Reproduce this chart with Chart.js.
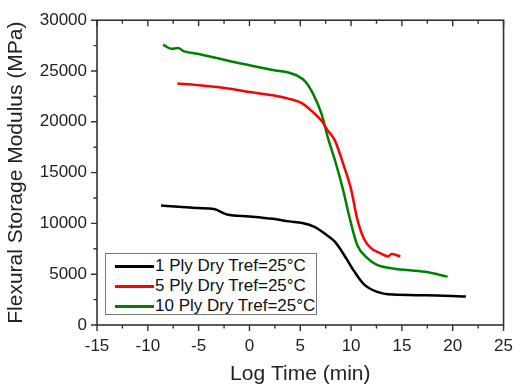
<!DOCTYPE html>
<html>
<head>
<meta charset="utf-8">
<script src="https://cdn.jsdelivr.net/npm/chart.js@4/dist/chart.umd.min.js"></script>
<style>
  html, body { margin: 0; padding: 0; background: #fff; }
  #wrap { position: relative; width: 524px; height: 391px; }
  #legend {
    position: absolute; left: 105px; top: 253px; width: 212px; height: 62px;
    border: 1.5px solid #777; background: #fff;
    font-family: "Liberation Sans", Arial, sans-serif; font-size: 17px; color: #111;
    padding-top: 2px; box-sizing: border-box; white-space: nowrap;
  }
  #legend .row { display: flex; align-items: center; height: 20px; }
  #legend .swatch { width: 39px; height: 3px; margin-left: 9px; margin-right: 1px; flex: none; }
</style>
</head>
<body>
<div id="wrap">
  <canvas id="chart" width="524" height="391"></canvas>
  <div id="legend"></div>
</div>
<script>
const seriesNames = ['1 Ply Dry Tref=25°C', '5 Ply Dry Tref=25°C', '10 Ply Dry Tref=25°C'];
const seriesColors = ['#000000', '#ff0000', '#008000'];

const ply1X = [-8.7, -7.0, -5.1, -3.5, -2.2, 0.0, 2.3, 3.9, 5.2, 6.4, 7.4, 8.4, 9.3, 10.3, 11.25, 12.5, 14.1, 17.3, 21.3];
const ply1Y = [11750, 11650, 11510, 11420, 10870, 10680, 10450, 10200, 10040, 9650, 9000, 8200, 6920, 5300, 4020, 3280, 2990, 2930, 2800];

const ply5X = [-7.1, -5.1, -1.9, 0.0, 2.3, 3.9, 5.2, 6.1, 7.1, 7.7, 8.4, 9.2, 10.0, 10.6, 11.25, 11.9, 12.85, 13.65, 13.97, 14.85];
const ply5Y = [23770, 23610, 23260, 22930, 22610, 22260, 21810, 21070, 20100, 19140, 18170, 15920, 13350, 10450, 8520, 7620, 7070, 6750, 6980, 6750];

const ply10X = [-8.5, -7.7, -7.0, -6.5, -5.1, -1.9, 0.0, 2.3, 3.9, 4.7, 5.5, 6.3, 7.1, 7.7, 8.5, 9.2, 9.8, 10.6, 11.6, 12.5, 14.1, 17.3, 19.5];
const ply10Y = [27600, 27180, 27260, 26960, 26700, 25960, 25570, 25090, 24830, 24540, 23960, 22680, 20750, 18490, 15920, 13350, 10780, 7880, 6590, 5950, 5570, 5240, 4760];

const xTicks = [-15, -10, -5, 0, 5, 10, 15, 20, 25];
const yTicks = [0, 5000, 10000, 15000, 20000, 25000, 30000];

const seriesX = [ply1X, ply5X, ply10X];
const seriesY = [ply1Y, ply5Y, ply10Y];

const FONT = '"Liberation Sans", Arial, sans-serif';

// frame + major/minor tick marks drawn from the scales
const framePlugin = {
  id: 'frame',
  afterDraw(chart) {
    const { ctx, chartArea: a, scales } = chart;
    const xs = scales.x, ys = scales.y;
    ctx.save();
    ctx.strokeStyle = '#333';
    ctx.lineWidth = 1.6;
    ctx.strokeRect(a.left, a.top, a.right - a.left, a.bottom - a.top);
    ctx.lineWidth = 1.4;
    ctx.beginPath();
    for (let v = -15; v <= 25; v += 2.5) {
      const px = xs.getPixelForValue(v);
      const major = v % 5 === 0;
      const len = major ? 6 : 3.5;
      ctx.moveTo(px, a.bottom); ctx.lineTo(px, a.bottom + len);
      ctx.moveTo(px, a.top); ctx.lineTo(px, a.top + len);
    }
    for (let v = 0; v <= 30000; v += 2500) {
      const py = ys.getPixelForValue(v);
      const major = v % 5000 === 0;
      const len = major ? 6 : 3.5;
      ctx.moveTo(a.left, py); ctx.lineTo(a.left - len, py);
    }
    ctx.stroke();
    ctx.restore();
  }
};

const datasets = seriesNames.map((name, i) => ({
  label: name,
  data: seriesX[i].map((x, j) => ({ x, y: seriesY[i][j] })),
  borderColor: seriesColors[i],
  backgroundColor: seriesColors[i],
  borderWidth: 2.5,
  pointRadius: 0,
  cubicInterpolationMode: 'monotone',
  showLine: true,
  fill: false
}));

new Chart(document.getElementById('chart'), {
  type: 'scatter',
  data: { datasets },
  plugins: [framePlugin],
  options: {
    responsive: false,
    animation: false,
    layout: { padding: { top: 14, right: 11, left: 0, bottom: 0 } },
    plugins: { legend: { display: false }, tooltip: { enabled: false } },
    scales: {
      x: {
        type: 'linear', min: -15, max: 25,
        afterBuildTicks: s => { s.ticks = xTicks.map(v => ({ value: v })); },
        afterFit: s => { s.height = 66; },
        grid: { display: false, drawTicks: false },
        border: { display: false },
        ticks: { color: '#222', font: { family: FONT, size: 17 }, padding: 11, maxRotation: 0, callback: v => String(v) },
        title: { display: true, text: 'Log Time (min)', color: '#222', font: { family: FONT, size: 21 }, padding: { top: 2 } }
      },
      y: {
        type: 'linear', min: 0, max: 30000,
        afterBuildTicks: s => { s.ticks = yTicks.map(v => ({ value: v })); },
        afterFit: s => { s.width = 97; },
        grid: { display: false, drawTicks: false },
        border: { display: false },
        ticks: { color: '#222', font: { family: FONT, size: 17 }, padding: 10, callback: v => String(v) },
        title: { display: true, text: 'Flexural Storage Modulus (MPa)', color: '#222', font: { family: FONT, size: 21 }, padding: { bottom: 2 } }
      }
    }
  }
});

const legend = document.getElementById('legend');
seriesNames.forEach((name, i) => {
  const row = document.createElement('div');
  row.className = 'row';
  const sw = document.createElement('span');
  sw.className = 'swatch';
  sw.style.background = seriesColors[i];
  const label = document.createElement('span');
  label.textContent = name;
  row.appendChild(sw);
  row.appendChild(label);
  legend.appendChild(row);
});
</script>
</body>
</html>
